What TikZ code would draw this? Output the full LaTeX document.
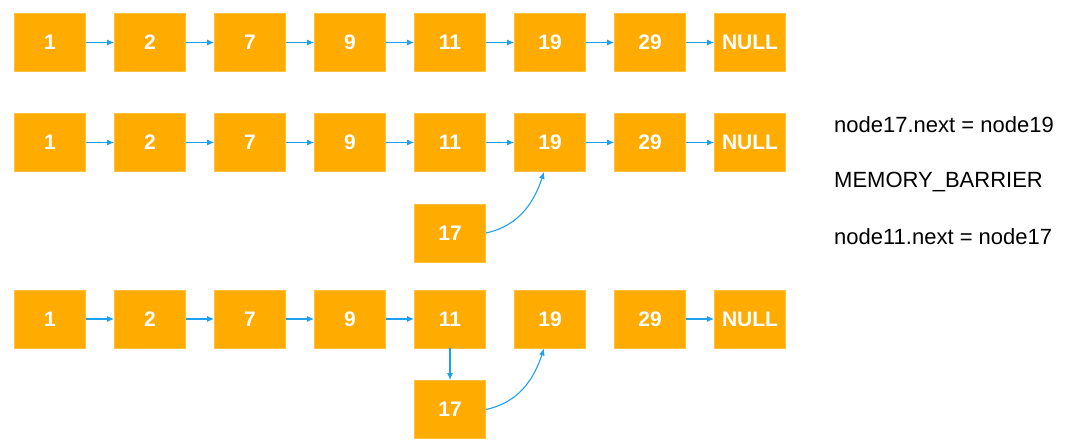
\documentclass[tikz,border=0pt]{standalone}
\usepackage{fontspec}
\setmainfont{Liberation Sans}
\usetikzlibrary{arrows.meta}

\definecolor{nodeorange}{HTML}{FFAB00}
\definecolor{nodeedge}{HTML}{FFC040}
\definecolor{linkblue}{HTML}{1EA0F0}

\begin{document}
\begin{tikzpicture}[x=1pt, y=-1pt,
    elem/.style={rectangle, fill=nodeorange, draw=nodeedge, line width=0.8pt,
        minimum width=71pt, minimum height=58pt, inner sep=0pt,
        text=white, font=\fontsize{21}{24}\selectfont\bfseries},
    link/.style={draw=linkblue, line width=1.1pt, -{Latex[length=7pt,width=6pt]}},
    note/.style={anchor=base west, inner sep=0pt, font=\fontsize{22}{26}\selectfont}]

    \useasboundingbox (0,0) rectangle (1080,444);

    % lista original
    \node[elem] (a1) at (50,42.5) {1};
    \node[elem] (a2) at (150,42.5) {2};
    \node[elem] (a7) at (250,42.5) {7};
    \node[elem] (a9) at (350,42.5) {9};
    \node[elem] (a11) at (450,42.5) {11};
    \node[elem] (a19) at (550,42.5) {19};
    \node[elem] (a29) at (650,42.5) {29};
    \node[elem] (anull) at (750,42.5) {NULL};

    \draw[link] (a1) -- (a2);
    \draw[link] (a2) -- (a7);
    \draw[link] (a7) -- (a9);
    \draw[link] (a9) -- (a11);
    \draw[link] (a11) -- (a19);
    \draw[link] (a19) -- (a29);
    \draw[link] (a29) -- (anull);

    % paso 1: node17.next
    \node[elem] (b1) at (50,142.5) {1};
    \node[elem] (b2) at (150,142.5) {2};
    \node[elem] (b7) at (250,142.5) {7};
    \node[elem] (b9) at (350,142.5) {9};
    \node[elem] (b11) at (450,142.5) {11};
    \node[elem] (b19) at (550,142.5) {19};
    \node[elem] (b29) at (650,142.5) {29};
    \node[elem] (bnull) at (750,142.5) {NULL};
    \node[elem] (b17) at (450,233) {17};

    \draw[link] (b1) -- (b2);
    \draw[link] (b2) -- (b7);
    \draw[link] (b7) -- (b9);
    \draw[link] (b9) -- (b11);
    \draw[link] (b11) -- (b19);
    \draw[link] (b19) -- (b29);
    \draw[link] (b29) -- (bnull);
    \draw[link] (b17.east) to[out=12, in=-108] ([xshift=-6pt]b19.south);

    % paso 2: node11.next
    \node[elem] (c1) at (50,319) {1};
    \node[elem] (c2) at (150,319) {2};
    \node[elem] (c7) at (250,319) {7};
    \node[elem] (c9) at (350,319) {9};
    \node[elem] (c11) at (450,319) {11};
    \node[elem] (c19) at (550,319) {19};
    \node[elem] (c29) at (650,319) {29};
    \node[elem] (cnull) at (750,319) {NULL};
    \node[elem] (c17) at (450,409.5) {17};

    \draw[link] (c1) -- (c2);
    \draw[link] (c2) -- (c7);
    \draw[link] (c7) -- (c9);
    \draw[link] (c9) -- (c11);
    \draw[link] (c29) -- (cnull);
    \draw[link] (c11) -- (c17);
    \draw[link] (c17.east) to[out=12, in=-108] ([xshift=-6pt]c19.south);

    % texto derecha
    \node[note] (t1) at (834,132) {node17.next = node19};
    \node[note] (t2) at (834,187) {MEMORY\_BARRIER};
    \node[note] (t3) at (834,244) {node11.next = node17};

\end{tikzpicture}
\end{document}
